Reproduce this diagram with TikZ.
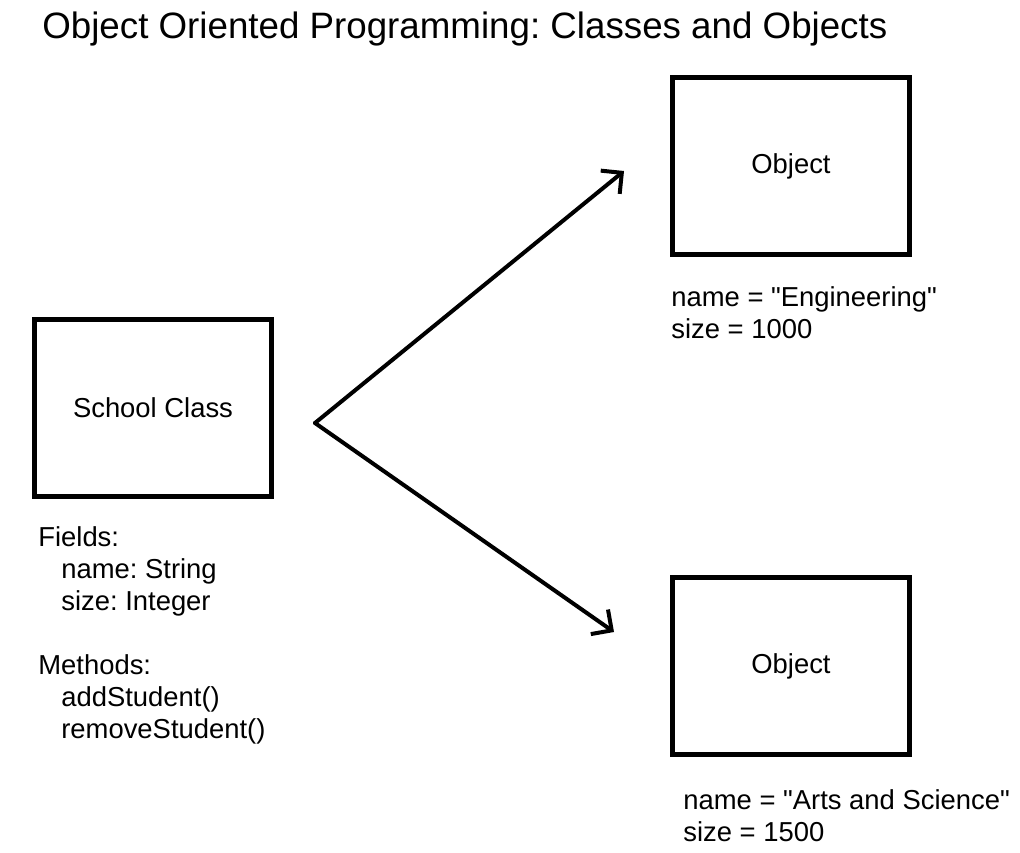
\documentclass[tikz,border=0pt]{standalone}
\usepackage{fontspec}
\setmainfont{Liberation Sans}[Ligatures=TeXOff]
\usepackage{tikz}
\usetikzlibrary{arrows.meta, positioning}
\frenchspacing

\begin{document}
\begin{tikzpicture}[x=0.02cm, y=-0.02cm,
    box/.style={draw, line width=0.1cm, minimum width=4.76cm,
                minimum height=3.56cm, inner sep=0pt, font=\fontsize{15.6}{18.2}\selectfont},
    info/.style={anchor=north west, align=left, inner sep=0pt,
                 font=\fontsize{15.6}{18.2}\selectfont},
    link/.style={line width=0.08cm, line cap=round, line join=round,
                 -{Straight Barb[length=0.3cm, width=0.6cm, line width=0.08cm]}}]
  \useasboundingbox (0,0) rectangle (1020,852);
  \node[anchor=base west, inner sep=0pt, font=\fontsize{20.9}{24}\selectfont]
    (title) at (42,38) {Object Oriented Programming: Classes and Objects};

  % class and objects
  \node[box] (school) at (153,408) {School Class};
  \node[box] (obj1) at (791,166) {Object};
  \node[box] (obj2) at (791,666) {Object};

  \node[info] (fields) at (38,526)
    {Fields:\\\hspace{0.46cm}name: String\\\hspace{0.46cm}size: Integer\\[18.2pt]
     Methods:\\\hspace{0.46cm}addStudent()\\\hspace{0.46cm}removeStudent()};
  \node[info] (vals1) at (671,286) {name = "Engineering"\\size = 1000};
  \node[info] (vals2) at (683,789) {name = "Arts and Science"\\size = 1500};

  % instantiation arrows
  \coordinate (split) at (315,423);
  \coordinate (tip1) at (624,171);
  \coordinate (tip2) at (614,632);
  \draw[link] (split) -- (tip1);
  \draw[link] (split) -- (tip2);
\end{tikzpicture}
\end{document}
